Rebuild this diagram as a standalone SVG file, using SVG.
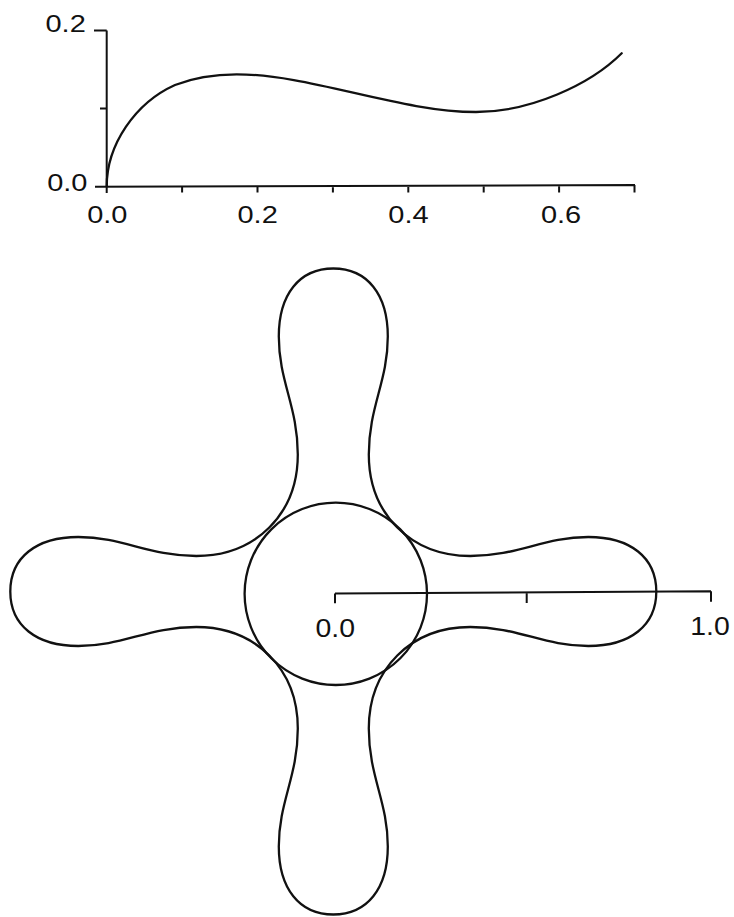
<svg xmlns="http://www.w3.org/2000/svg" width="734" height="917" viewBox="0 0 734 917">
<style>
.ln{fill:none;stroke:#111;stroke-width:2;stroke-linejoin:round}
.cv{fill:none;stroke:#111;stroke-width:2.3;stroke-linejoin:round;stroke-linecap:round}
.t1{font-family:"Liberation Sans",Arial,sans-serif;font-size:23.3px;fill:#111}
.t2{font-family:"Liberation Sans",Arial,sans-serif;font-size:25.5px;fill:#111}
</style>
<rect width="734" height="917" fill="#fff"/>
<g id="top-plot">
  <path class="ln" d="M106.7,30.5 V193 M94,30.5 H106.7 M100,108.5 H106.7 M95,186.7 L635,185 M182.1,186.5 V192.5 M257.5,186.3 V192.5 M332.9,186.1 V192.5 M408.3,185.9 V192.5 M483.7,185.7 V192.5 M559.1,185.4 V192.5 M634.5,185 V192.5"/>
  <path class="cv" d="M106.7,186.5 C106.7,145 135,103 175,85 C195,77 215,74.3 236.7,74.3 C310,74.3 400,112 476,112 C530,112 590,85 621.7,53.3"/>
  <text class="t1" x="45.5" y="32" textLength="40.3" lengthAdjust="spacingAndGlyphs">0.2</text>
  <text class="t1" x="47.2" y="191" textLength="40.3" lengthAdjust="spacingAndGlyphs">0.0</text>
  <text class="t1" x="87.2" y="223" textLength="40.3" lengthAdjust="spacingAndGlyphs">0.0</text>
  <text class="t1" x="237.5" y="223" textLength="40.3" lengthAdjust="spacingAndGlyphs">0.2</text>
  <text class="t1" x="388.3" y="223" textLength="40.3" lengthAdjust="spacingAndGlyphs">0.4</text>
  <text class="t1" x="540.9" y="223" textLength="40.3" lengthAdjust="spacingAndGlyphs">0.6</text>
</g>
<g id="cross-shape" transform="translate(333.3,591.5)">
  <path class="cv" d="M-64,-64 C-49,-79 -35.5,-102 -35.5,-137 C-35.5,-185 -54.5,-210 -54.5,-255 C-54.5,-297 -34,-323 0,-323 C34,-323 54.5,-297 54.5,-255 C54.5,-210 35.5,-185 35.5,-137 C35.5,-102 49,-79 64,-64 C79,-49 102,-35.5 137,-35.5 C185,-35.5 210,-54.5 255,-54.5 C297,-54.5 323,-34 323,0 C323,34 297,54.5 255,54.5 C210,54.5 185,35.5 137,35.5 C102,35.5 79,49 64,64 C49,79 35.5,102 35.5,137 C35.5,185 54.5,210 54.5,255 C54.5,297 34,323 0,323 C-34,323 -54.5,297 -54.5,255 C-54.5,210 -35.5,185 -35.5,137 C-35.5,102 -49,79 -64,64 C-79,49 -102,35.5 -137,35.5 C-185,35.5 -210,54.5 -255,54.5 C-297,54.5 -323,34 -323,0 C-323,-34 -297,-54.5 -255,-54.5 C-210,-54.5 -185,-35.5 -137,-35.5 C-102,-35.5 -79,-49 -64,-64 Z"/>
</g>
<g id="circle">
  <circle class="cv" cx="335.8" cy="593.8" r="91.2"/>
</g>
<g id="scale-bar">
  <path class="ln" d="M335,593.5 L711,591.3 M335,593.5 V603.3 M526.7,592.4 V603 M711,591.3 V601.7"/>
  <text class="t2" x="315.5" y="636.7" textLength="39.5" lengthAdjust="spacingAndGlyphs">0.0</text>
  <text class="t2" x="690.2" y="635" textLength="39.5" lengthAdjust="spacingAndGlyphs">1.0</text>
</g>
</svg>
